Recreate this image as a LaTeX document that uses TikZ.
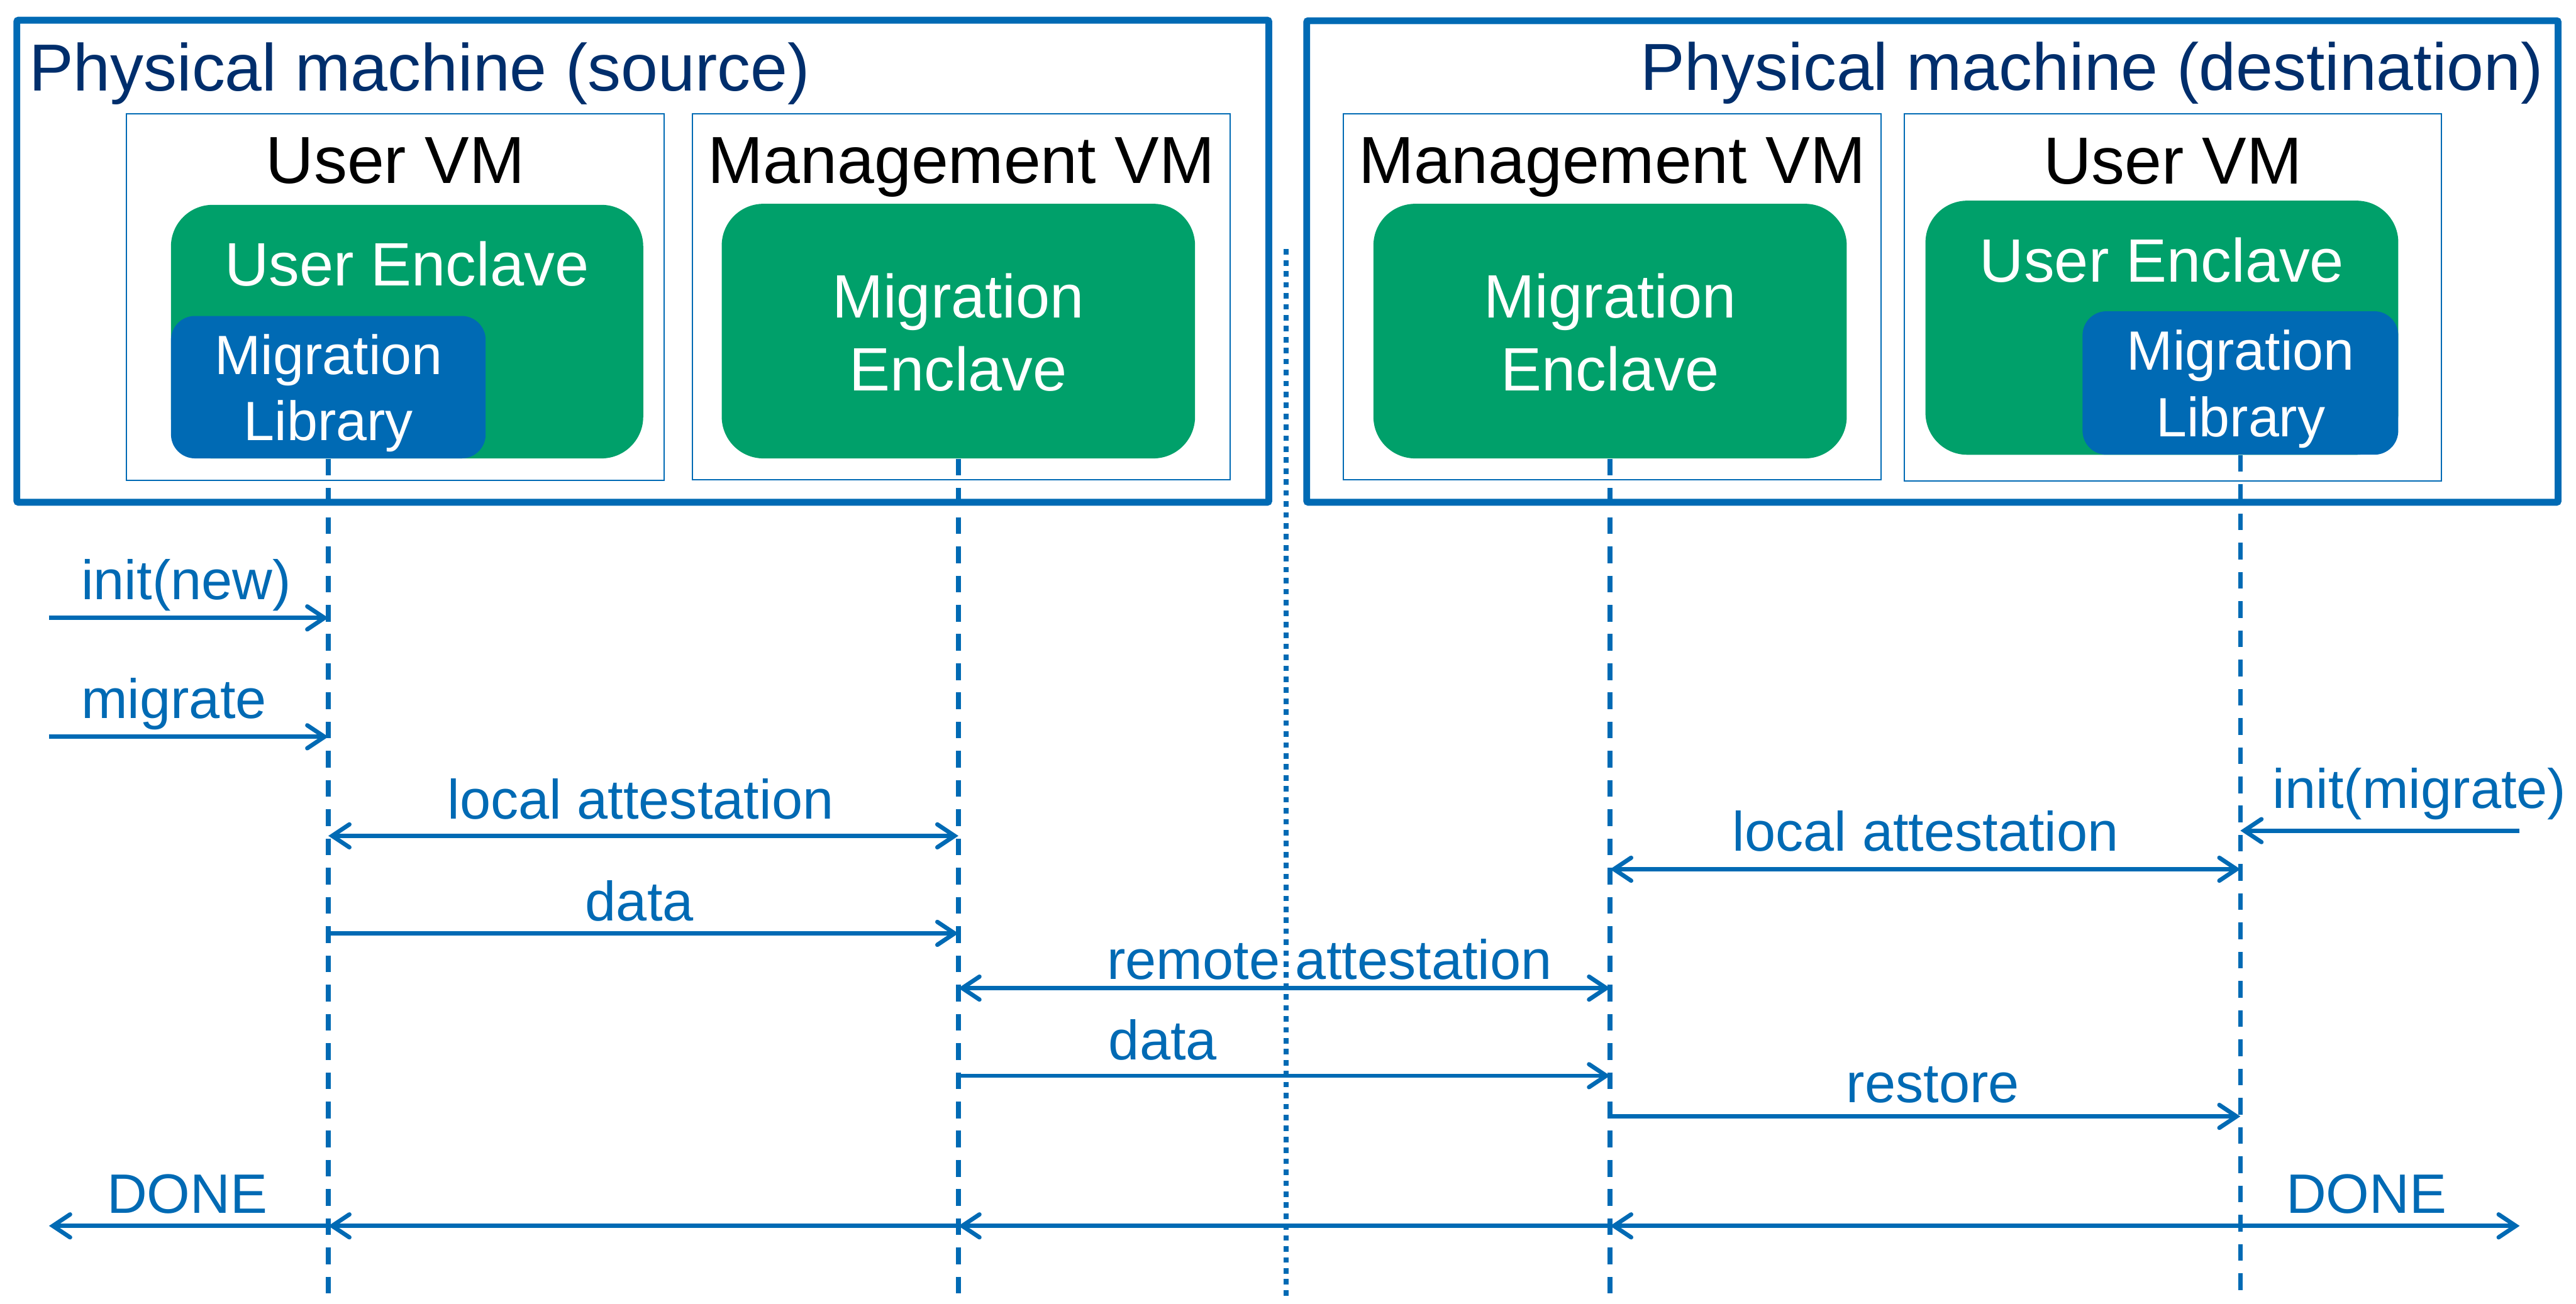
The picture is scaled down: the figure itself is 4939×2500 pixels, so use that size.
\documentclass[tikz,border=0pt]{standalone}
\usepackage{fontspec}
\setmainfont{Liberation Sans}
\usetikzlibrary{arrows.meta}
\definecolor{sgxblue}{RGB}{0,106,180}
\definecolor{sgxgreen}{RGB}{0,160,106}
\definecolor{sgxnavy}{RGB}{0,46,108}
\tikzset{
	pmbox/.style={draw=sgxblue, line width=0.13cm, rounded corners=0.03cm, inner sep=0pt},
	vmbox/.style={draw=sgxblue, line width=0.025cm, inner sep=0pt},
	enclave/.style={fill=sgxgreen, rounded corners=0.8cm, inner sep=0pt},
	library/.style={fill=sgxblue, rounded corners=0.46cm, inner sep=0pt},
	pmtext/.style={text=sgxnavy, font=\fontsize{36.3}{43}\selectfont, inner sep=0pt},
	vmtext/.style={text=black, font=\fontsize{36.3}{43}\selectfont, inner sep=0pt, anchor=base},
	enctext/.style={text=white, font=\fontsize{33.4}{40}\selectfont, inner sep=0pt, anchor=base},
	libtext/.style={text=white, font=\fontsize{30.2}{36}\selectfont, inner sep=0pt, anchor=base},
	msgtext/.style={text=sgxblue, font=\fontsize{30.3}{36}\selectfont, inner sep=0pt, anchor=base},
	lifeline/.style={draw=sgxblue, line width=0.088cm, dash pattern=on 0.32cm off 0.24cm},
	sepline/.style={draw=sgxblue, line width=0.1cm, dash pattern=on 0.105cm off 0.105cm},
	barb/.tip={Straight Barb[length=0.33cm, width=0.44cm, line cap=round]},
	msg/.style={draw=sgxblue, line width=0.082cm, -barb},
	msgboth/.style={draw=sgxblue, line width=0.082cm, barb-barb},
}
\begin{document}
\begin{tikzpicture}[x=0.01cm, y=-0.01cm]
	\useasboundingbox (0,0) rectangle (4939,2500);
	% machines and VMs
	\node [pmbox, minimum width=23.99cm, minimum height=9.24cm] (srcpm) at (1232.5,501) {};
	\node [pmbox, minimum width=23.98cm, minimum height=9.23cm] (dstpm) at (3705,501.5) {};
	\node [vmbox, minimum width=10.30cm, minimum height=7.03cm] (srcuvm) at (758,569.5) {};
	\node [vmbox, minimum width=10.30cm, minimum height=7.02cm] (srcmvm) at (1843,569) {};
	\node [vmbox, minimum width=10.30cm, minimum height=7.02cm] (dstmvm) at (3091,569) {};
	\node [vmbox, minimum width=10.30cm, minimum height=7.03cm] (dstuvm) at (4166,570.5) {};
	\node [pmtext, anchor=base west] (srctitle) at (55,174) {Physical machine (source)};
	\node [pmtext, anchor=base east] (dsttitle) at (4877,173) {Physical machine (destination)};
	\node [vmtext] (srcuvmtxt) at (758,351) {User VM};
	\node [vmtext] (srcmvmtxt) at (1843,352) {Management VM};
	\node [vmtext] (dstmvmtxt) at (3091,352) {Management VM};
	\node [vmtext] (dstuvmtxt) at (4166,353) {User VM};
	% enclaves
	\node [enclave, minimum width=9.05cm, minimum height=4.86cm] (srcue) at (780.5,636) {};
	\node [library, minimum width=6.03cm, minimum height=2.73cm] (srcml) at (629.5,742.5) {};
	\node [enclave, minimum width=9.07cm, minimum height=4.88cm] (srcme) at (1837.5,635) {};
	\node [enclave, minimum width=9.07cm, minimum height=4.88cm] (dstme) at (3087,635) {};
	\node [enclave, minimum width=9.06cm, minimum height=4.87cm] (dstue) at (4145,628.5) {};
	\node [library, minimum width=6.05cm, minimum height=2.75cm] (dstml) at (4295.5,734.5) {};
	\node [enctext] (srcuetxt) at (780,548) {User Enclave};
	\node [libtext] (srcmltxta) at (630,718) {Migration};
	\node [libtext] (srcmltxtb) at (630,845) {Library};
	\node [enctext] (srcmetxta) at (1837,610) {Migration};
	\node [enctext] (srcmetxtb) at (1837,750) {Enclave};
	\node [enctext] (dstmetxta) at (3087,610) {Migration};
	\node [enctext] (dstmetxtb) at (3087,750) {Enclave};
	\node [enctext] (dstuetxt) at (4145,541) {User Enclave};
	\node [libtext] (dstmltxta) at (4296,710) {Migration};
	\node [libtext] (dstmltxtb) at (4296,838) {Library};
	% lifelines
	\coordinate (bottom) at (0,2480);
	\coordinate (west) at (94,0);
	\coordinate (east) at (4831,0);
	\coordinate (septop) at (2466,478);
	\coordinate (sepbot) at (2466,2494);
	\draw [sepline] (septop) -- (sepbot);
	\foreach \encl in {srcml, srcme, dstme, dstml}
		\draw [lifeline] (\encl.south) -- (\encl.south |- bottom);
	% messages
	\coordinate (r1) at (0,1185);
	\coordinate (r2) at (0,1413);
	\coordinate (r3) at (0,1603);
	\coordinate (r4) at (0,1790);
	\coordinate (r5) at (0,1593);
	\coordinate (r6) at (0,1667);
	\coordinate (r7) at (0,1895);
	\coordinate (r8) at (0,2063);
	\coordinate (r9) at (0,2141);
	\coordinate (r10) at (0,2351);
	\draw [msg] (west |- r1) -- (srcml |- r1);
	\draw [msg] (west |- r2) -- (srcml |- r2);
	\draw [msgboth] (srcml |- r3) -- (srcme |- r3);
	\draw [msg] (srcml |- r4) -- (srcme |- r4);
	\draw [msg] (east |- r5) -- (dstml |- r5);
	\draw [msgboth] (dstme |- r6) -- (dstml |- r6);
	\draw [msgboth] (srcme |- r7) -- (dstme |- r7);
	\draw [msg] (srcme |- r8) -- (dstme |- r8);
	\draw [msg] (dstme |- r9) -- (dstml |- r9);
	\draw [msg] (srcml |- r10) -- (west |- r10);
	\draw [msg] (srcme |- r10) -- (srcml |- r10);
	\draw [msg] (dstme |- r10) -- (srcme |- r10);
	\draw [msgboth] (dstme |- r10) -- (east |- r10);
	\node [msgtext, anchor=base west] (initnew) at (155,1150) {init(new)};
	\node [msgtext, anchor=base west] (migrate) at (155,1378) {migrate};
	\node [msgtext] (srcla) at (1228,1570) {local attestation};
	\node [msgtext] (srcdata) at (1226,1766) {data};
	\node [msgtext, anchor=base west] (initmig) at (4357,1550) {init(migrate)};
	\node [msgtext] (dstla) at (3692,1632) {local attestation};
	\node [msgtext, anchor=base west] (remote) at (2122,1878) {remote attestation};
	\node [msgtext, anchor=base west] (dstdata) at (2125,2032) {data};
	\node [msgtext] (restore) at (3706,2114) {restore};
	\node [msgtext] (donesrc) at (359,2327) {DONE};
	\node [msgtext] (donedst) at (4537,2327) {DONE};
\end{tikzpicture}
\end{document}
